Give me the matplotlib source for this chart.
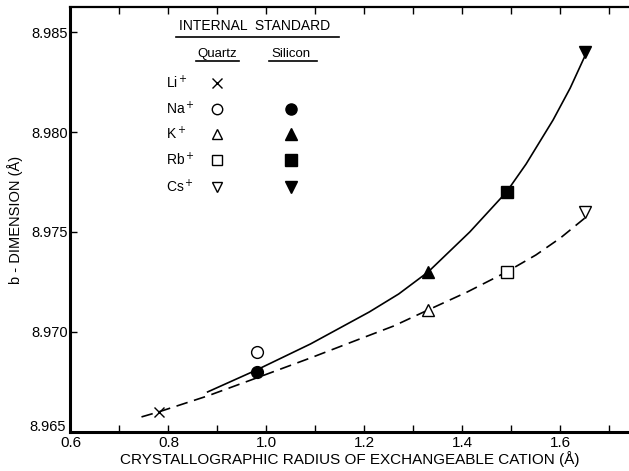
import matplotlib.pyplot as plt
import matplotlib.ticker as mticker
import matplotlib.transforms as mtransforms

plt.rcParams['font.family'] = ['Liberation Sans', 'DejaVu Sans']

# --- data ---
cations = ['Li$^+$', 'Na$^+$', 'K$^+$', 'Rb$^+$', 'Cs$^+$']
radius = [0.78, 0.98, 1.33, 1.49, 1.65]

# quartz internal standard (open markers), Li..Cs
quartz_b = [8.9660, 8.9690, 8.9711, 8.9730, 8.9760]
quartz_markers = ['x', 'o', '^', 's', 'v']

# silicon internal standard (filled markers), Na..Cs
silicon_r = [0.98, 1.33, 1.49, 1.65]
silicon_b = [8.9680, 8.9730, 8.9770, 8.9840]
silicon_markers = ['o', '^', 's', 'v']

# hand-drawn trend curves, points traced along them
solid_x = [0.88, 0.98, 1.09, 1.21, 1.27, 1.33, 1.415, 1.49, 1.53, 1.585, 1.62, 1.65]
solid_y = [8.9670, 8.9681, 8.9694, 8.9710, 8.9719, 8.9730, 8.9750, 8.9770,
           8.9784, 8.9806, 8.9822, 8.9838]
dash_x = [0.745, 0.78, 0.88, 0.98, 1.09, 1.18, 1.26, 1.33, 1.41, 1.49, 1.55, 1.60, 1.65]
dash_y = [8.96575, 8.9660, 8.9668, 8.9677, 8.9687, 8.96955, 8.9703, 8.9711,
          8.9720, 8.9730, 8.97385, 8.9747, 8.9757]

y_min, y_max = 8.965, 8.98625

fig = plt.figure(figsize=(6.29, 4.71), dpi=100)
ax = fig.add_axes([0.112, 0.083, 0.888, 0.902])

ax.plot(solid_x, solid_y, color='black', lw=1.2, zorder=2)
ax.plot(dash_x, dash_y, color='black', lw=1.2, dashes=(7, 4), zorder=2)

for r, b, m in zip(radius, quartz_b, quartz_markers):
    if m == 'x':
        ax.plot(r, b, marker='x', ms=7, mec='black', mew=1.0, ls='none', zorder=3)
    else:
        ax.plot(r, b, marker=m, ms=8.5, mfc='white', mec='black', mew=1.0, ls='none', zorder=3)
for r, b, m in zip(silicon_r, silicon_b, silicon_markers):
    ax.plot(r, b, marker=m, ms=8.5, mfc='black', mec='black', ls='none', zorder=3)

ax.set_xlim(0.6, 1.74)
ax.set_ylim(y_min, y_max)
ax.xaxis.set_major_locator(mticker.FixedLocator([0.6, 0.8, 1.0, 1.2, 1.4, 1.6]))
ax.xaxis.set_minor_locator(mticker.MultipleLocator(0.1))
ax.xaxis.set_major_formatter(mticker.FormatStrFormatter('%.1f'))
ax.yaxis.set_major_locator(mticker.MultipleLocator(0.005))
# the corner label is placed by hand below so it does not sit on top of "0.6"
ax.yaxis.set_major_formatter(mticker.FuncFormatter(
    lambda v, p: '' if abs(v - y_min) < 1e-6 else f'{v:.3f}'))

ax.tick_params(axis='x', which='both', direction='in', top=True, length=5, width=1,
               labelsize=11, pad=3)
ax.tick_params(axis='y', which='both', direction='in', length=5, width=1,
               labelsize=10.5, pad=2)
ax.spines['right'].set_visible(False)
for s in ['left', 'bottom']:
    ax.spines[s].set_linewidth(2.2)
ax.spines['top'].set_linewidth(1.6)

corner = mtransforms.offset_copy(ax.transData, fig=fig, x=-3, y=1, units='points')
ax.text(0.6, y_min, f'{y_min:.3f}', transform=corner, fontsize=10.5,
        ha='right', va='baseline', clip_on=False)

ax.set_xlabel('CRYSTALLOGRAPHIC RADIUS OF EXCHANGEABLE CATION (Å)', fontsize=11, labelpad=1)
ax.set_ylabel('b - DIMENSION (Å)', fontsize=10.5, labelpad=6)

# legend drawn as a small table in the upper left
lab_x = 0.795
q_x, s_x = 0.9, 1.05
row_y = [8.98245, 8.98115, 8.97990, 8.97860, 8.97725]
ax.text(0.975, 8.98530, 'INTERNAL  STANDARD', fontsize=10, ha='center', va='center')
ax.plot([0.815, 1.148], [8.98475, 8.98475], color='black', lw=1.2)
ax.text(q_x, 8.98390, 'Quartz', fontsize=9.5, ha='center', va='center')
ax.plot([0.857, 0.945], [8.98355, 8.98355], color='black', lw=1.2)
ax.text(s_x, 8.98390, 'Silicon', fontsize=9.5, ha='center', va='center')
ax.plot([1.005, 1.103], [8.98355, 8.98355], color='black', lw=1.2)
for i, name in enumerate(cations):
    ax.text(lab_x, row_y[i], name, fontsize=10, ha='left', va='center')
    m = quartz_markers[i]
    if m == 'x':
        ax.plot(q_x, row_y[i], marker='x', ms=6.5, mec='black', mew=1.0, ls='none')
    else:
        ax.plot(q_x, row_y[i], marker=m, ms=7.5, mfc='white', mec='black', mew=1.0, ls='none')
    if i > 0:
        ax.plot(s_x, row_y[i], marker=silicon_markers[i - 1], ms=8, mfc='black',
                mec='black', ls='none')

fig.savefig('out.png', dpi=100)
